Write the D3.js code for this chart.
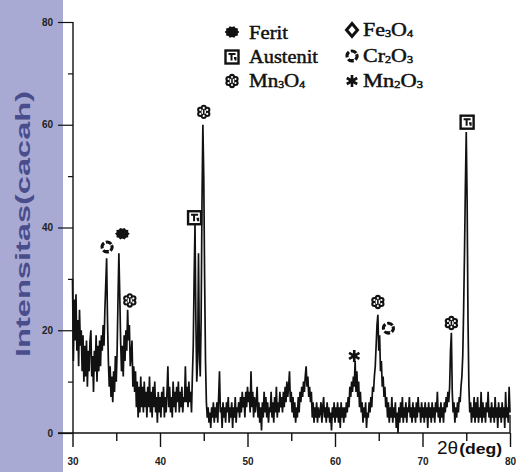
<!DOCTYPE html>
<html><head><meta charset="utf-8">
<script src="https://cdn.jsdelivr.net/npm/d3@7"></script>
<style>html,body{margin:0;padding:0;background:#fff;}svg{display:block;}</style>
</head><body>
<svg id="c" width="518" height="472"></svg>
<script>
// ---- data ----
const thetaStart = 30, thetaEnd = 80, thetaStep = 0.1;
const intensity = [
30,14,26,18,27,16,22,13,24,17,20,
12,19,10,17,11,18,9,16,12,18,
20,11,15,8,16,12,19,10,17,12,
18,13,19,16,21,17,24,29,34,22,
14,9,13,7,11,6,12,8,15,10,
16,26,35,27,18,12,17,11,19,14,
20,16,24,18,21,13,15,18,9,13,
8,12,5,10,3,9,4,11,5,9,
4,10,5,8,3,9,5,11,4,8,
3,9,5,10,4,7,2,8,4,7,
3,8,5,9,3,7,4,8,13,5,
9,4,7,3,10,5,8,4,9,6,
10,4,8,5,9,4,7,6,13,6,
9,5,10,6,8,4,11,17,30,40.5,
22,10,14,35,16,11,22,45,60,50,
30,14,6,3,5,2,4,1,5,3,
6,2,5,3,6,2,7,12,4,5,
1,6,3,5,2,6,4,7,2,5,
3,6,1,5,3,7,2,5,4,6,
3,7,4,8,5,7,3,8,5,9,
6,8,4,12,5,8,3,7,4,6,
9,3,6,2,5,0.5,6,3,8,4,
7,3,6,2,5,4,8,3,6,2,
7,4,9,3,6,4,8,5,7,4,
8,5,9,6,10,7,9,12,6,8,
4,7,3,6,2,5,3,7,4,8,
6,9,7,10,8,11,13,9,11,7,
9,6,8,3,6,2,5,3,6,2,
5,3,4,6,2,5,7,3,5,2,
6,3,5,2,4,0.5,5,3,6,2,
5,3,6,2,5,1,6,3,5,2,
5,3,6,4,7,5,9,7,10,8,
11,9,14,8,12,7,10,5,8,4,
6,2,5,3,6,1,4,3,6,4,
7,5,9,8,11,13,17,21,23,16,
19,12,14,9,11,7,9,5,7,3,
6,2,5,3,7,2,5,3,6,1,
4,0,5,2,6,3,7,2,5,3,
6,2,5,4,7,3,5,2,6,3,
5,2,6,3,7,4,5,2,6,3,
5,2,6,3,5,1,6,3,5,2,
6,3,5,2,6,4,8,3,5,2,
6,3,5,2,6,4,7,5,8,6,
9,16,19.5,8,4,6,2,5,3,6,
4,7,6,9,11,15,24,35,48,58.6,
45,22,9,4,6,2,5,3,7,2,
6,3,7,2,5,3,8,2,6,3,
5,2,6,4,8,3,5,2,6,3,
5,2,7,3,5,1,6,3,5,2,
6,3,5,1,8,3,5,2,9,4
];
const yTicks = [0, 20, 40, 60, 80];
const yMinor = [10, 30, 50, 70];
const xTicks = [30, 40, 50, 60, 70, 80];
const xMinor = [35, 45, 55, 65, 75];
const markerPhase = ["Cr2O3", "Ferit", "Mn3O4", "Austenit", "Mn3O4", "Mn2O3", "Mn3O4", "Cr2O3", "Mn3O4", "Austenit"];
const markerTheta = [33.95, 35.7, 36.55, 43.95, 45.0, 62.2, 64.9, 66.1, 73.3, 75.1];
const markerI     = [36.2, 38.8, 25.8, 41.9, 62.5, 15.0, 25.5, 20.4, 21.4, 60.5];
const legendPhase = ["Ferit", "Austenit", "Mn3O4", "Fe3O4", "Cr2O3", "Mn2O3"];
const legendLabel = [[["Ferit",0]], [["Austenit",0]], [["Mn",0],["3",1],["O",0],["4",1]],
                     [["Fe",0],["3",1],["O",0],["4",1]], [["Cr",0],["2",1],["O",0],["3",1]], [["Mn",0],["2",1],["O",0],["3",1]]];

// ---- drawing ----
const svg = d3.select("#c");
const x = d3.scaleLinear().domain([30, 80]).range([72.5, 510]);
const y = d3.scaleLinear().domain([0, 80]).range([433, 22]);

svg.append("rect").attr("x", 0).attr("y", 0).attr("width", 63).attr("height", 472).attr("fill", "#a9aad4");

svg.append("text")
  .attr("transform", "translate(30,224) rotate(-90)")
  .attr("text-anchor", "middle")
  .attr("font-family", "Liberation Sans, Arial, sans-serif")
  .attr("font-weight", "bold")
  .attr("font-size", 20)
  .attr("fill", "#4a4d8c")
  .attr("textLength", 266)
  .attr("lengthAdjust", "spacingAndGlyphs")
  .text("Intensitas(cacah)");

const tickFont = g => g.selectAll("text")
  .attr("font-family", "Liberation Sans, Arial, sans-serif")
  .attr("font-weight", "bold").attr("font-size", 10).attr("fill", "#222");

const yAx = svg.append("g").attr("transform", "translate(73,0)")
  .call(d3.axisLeft(y).tickValues(yTicks).tickSize(15).tickPadding(5).tickFormat(d3.format("d")));
yAx.select(".domain").remove();
yAx.call(tickFont);
yAx.selectAll("line").attr("stroke", "#111").attr("stroke-width", 1.2);
const yAxm = svg.append("g").attr("transform", "translate(73,0)")
  .call(d3.axisLeft(y).tickValues(yMinor).tickSize(5).tickFormat(""));
yAxm.select(".domain").remove();
yAxm.selectAll("line").attr("stroke", "#111").attr("stroke-width", 1.2);

const xAx = svg.append("g").attr("transform", "translate(0,433)")
  .call(d3.axisBottom(x).tickValues(xTicks).tickSize(14).tickPadding(11).tickFormat(d3.format("d")));
xAx.select(".domain").remove();
xAx.call(tickFont);
xAx.selectAll("line").attr("stroke", "#111").attr("stroke-width", 1.4);
const xAxm = svg.append("g").attr("transform", "translate(0,433)")
  .call(d3.axisBottom(x).tickValues(xMinor).tickSize(8).tickFormat(""));
xAxm.select(".domain").remove();
xAxm.selectAll("line").attr("stroke", "#111").attr("stroke-width", 1.4);
// end tick at 80 reaches up a little
svg.append("line").attr("x1", x(80)).attr("x2", x(80)).attr("y1", y(3.5)).attr("y2", y(0)).attr("stroke", "#111").attr("stroke-width", 1.4);

svg.append("line").attr("x1", 73).attr("x2", 73).attr("y1", y(80)).attr("y2", y(0)).attr("stroke", "#111").attr("stroke-width", 1.4);
svg.append("line").attr("x1", 58).attr("x2", x(80)).attr("y1", y(0)).attr("y2", y(0)).attr("stroke", "#111").attr("stroke-width", 1.4);

// trace
const theta = d3.range(intensity.length).map(i => thetaStart + i * thetaStep);
const pts = intensity.map((v, i) => [theta[i], v]);
svg.append("path")
  .attr("d", d3.line().x(d => x(d[0])).y(d => y(d[1]))(pts))
  .attr("fill", "none").attr("stroke", "#111").attr("stroke-width", 1.7).attr("stroke-linejoin", "miter");

// x axis title
const xt = svg.append("text").attr("x", 437).attr("y", 454).attr("fill", "#111")
  .attr("font-family", "Liberation Sans, Arial, sans-serif");
xt.append("tspan").attr("font-size", 19).text("2θ");
xt.append("tspan").attr("font-size", 14).attr("font-weight", "bold").attr("dx", 1).attr("textLength", 43).attr("lengthAdjust", "spacingAndGlyphs").text("(deg)");

// symbols
function drawSymbol(g, type) {
  const k = "#111";
  if (type === "Ferit") {
    const p = d3.range(20).map(i => {
      const a = i / 20 * 2 * Math.PI, r = i % 2 ? 6.0 : 7.4;
      return [Math.cos(a) * r * 1.0, Math.sin(a) * r * 0.82];
    });
    g.append("path").attr("d", "M" + p.join("L") + "Z").attr("fill", k);
  } else if (type === "Austenit") {
    g.append("rect").attr("x", -6.5).attr("y", -6.5).attr("width", 13).attr("height", 13)
      .attr("fill", "#fff").attr("stroke", k).attr("stroke-width", 2.4);
    g.append("path").attr("d", "M-3.5,-3 H3.5 M-0.5,-3 V3.5 M2,1 H3.5 V3.5").attr("stroke", k).attr("stroke-width", 2).attr("fill", "none");
  } else if (type === "Mn3O4") {
    const ang = d3.range(6).map(i => i / 6 * 2 * Math.PI - Math.PI / 2);
    ang.forEach(a => g.append("circle").attr("cx", Math.cos(a) * 4.2).attr("cy", Math.sin(a) * 4.2).attr("r", 3.0).attr("fill", k));
    g.append("circle").attr("r", 4.2).attr("fill", k);
    ang.forEach(a => g.append("circle").attr("cx", Math.cos(a) * 4.0).attr("cy", Math.sin(a) * 4.0).attr("r", 1.1).attr("fill", "#fff"));
    g.append("circle").attr("r", 2.4).attr("fill", "#fff");
    g.append("path").attr("d", "M0,-2.6 V2.6").attr("stroke", k).attr("stroke-width", 1.6).attr("fill", "none");
  } else if (type === "Fe3O4") {
    g.append("path").attr("d", "M0,-6.5 L5.5,0 L0,6.5 L-5.5,0 Z").attr("fill", "#fff").attr("stroke", k).attr("stroke-width", 3);
  } else if (type === "Cr2O3") {
    g.append("circle").attr("r", 5.0).attr("fill", "none").attr("stroke", k).attr("stroke-width", 3)
      .attr("stroke-dasharray", "5.8,2.1").attr("transform", "rotate(-22)");
    g.append("path").attr("d", "M-2.5,3 L2.5,3 L0,5.8 Z").attr("fill", k);
  } else if (type === "Mn2O3") {
    g.append("path").attr("d", "M0,-6 V6 M-5.2,-3 L5.2,3 M-5.2,3 L5.2,-3")
      .attr("stroke", k).attr("stroke-width", 2.6).attr("fill", "none");
    g.append("circle").attr("r", 2.4).attr("fill", k);
  }
}

// markers on the pattern
markerPhase.forEach((p, i) => {
  const g = svg.append("g").attr("transform", `translate(${x(markerTheta[i])},${y(markerI[i])})`);
  drawSymbol(g, p);
});

// legend
const legPos = [[232, 32, 249, 38.5, 39], [232, 57, 249, 63, 69], [232, 81, 249, 87, 56],
                [352, 30, 363, 36, 50], [352, 56, 363, 62, 50], [352, 81, 363, 87, 60]];
legendPhase.forEach((p, i) => {
  const [sx, sy, tx, ty, tw] = legPos[i];
  drawSymbol(svg.append("g").attr("transform", `translate(${sx},${sy})`), p);
  const t = svg.append("text").attr("x", tx).attr("y", ty)
    .attr("font-family", "Liberation Serif, Times New Roman, serif")
    .attr("font-size", 18).attr("fill", "#111").attr("stroke", "#111").attr("stroke-width", 0.45)
    .attr("textLength", tw).attr("lengthAdjust", "spacingAndGlyphs");
  let shifted = false;
  legendLabel[i].forEach(([s, sub]) => {
    const ts = t.append("tspan").text(s);
    if (sub) { ts.attr("font-size", 10).attr("dy", shifted ? 0 : 1); shifted = true; }
    else { if (shifted) ts.attr("dy", -1); shifted = false; }
  });
});
</script>
</body></html>
